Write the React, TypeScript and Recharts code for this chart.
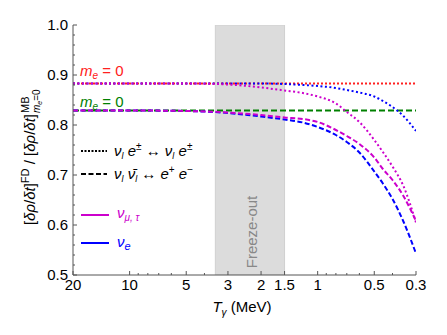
import React from 'react';
import { ComposedChart, Line, XAxis, YAxis, ReferenceArea, ReferenceLine } from 'recharts';

const T = [20, 10, 5, 3, 2, 1.5, 1.2, 1, 0.8, 0.7, 0.6, 0.5, 0.45, 0.4, 0.35, 0.3];
const muScat = [0.883, 0.883, 0.883, 0.881, 0.875, 0.869, 0.864, 0.857, 0.843, 0.826, 0.806, 0.77, 0.746, 0.717, 0.678, 0.605];
const eScat = [0.883, 0.883, 0.883, 0.883, 0.883, 0.882, 0.88, 0.878, 0.874, 0.87, 0.865, 0.857, 0.848, 0.836, 0.818, 0.788];
const muAnn = [0.829, 0.829, 0.828, 0.825, 0.82, 0.815, 0.812, 0.806, 0.79, 0.778, 0.762, 0.735, 0.712, 0.69, 0.658, 0.608];
const eAnn = [0.829, 0.829, 0.828, 0.824, 0.817, 0.811, 0.805, 0.796, 0.78, 0.766, 0.745, 0.707, 0.683, 0.652, 0.607, 0.543];

const ME0_SCAT = 0.883;
const ME0_ANN = 0.829;
const FREEZE = [3.5, 1.5];

const xMajor = [20, 10, 5, 3, 2, 1.5, 1, 0.5, 0.3];
const xMinor = [9, 8, 7, 6, 4, 0.9, 0.8, 0.7, 0.6, 0.4];
const yMajor = [0.5, 0.6, 0.7, 0.8, 0.9, 1.0];
const yMinor = [0.52, 0.54, 0.56, 0.58, 0.62, 0.64, 0.66, 0.68, 0.72, 0.74, 0.76, 0.78, 0.82, 0.84, 0.86, 0.88, 0.92, 0.94, 0.96, 0.98];

const data = T.map((t, i) => ({ t, muScat: muScat[i], eScat: eScat[i], muAnn: muAnn[i], eAnn: eAnn[i] }));

const FONT = '"Liberation Sans", Arial, Helvetica, sans-serif';
const AX = '#555';
const MAG = '#cc00cc';
const BLUE = '#0000ff';
const RED = '#ff2020';
const GREEN = '#008000';

const isMajorX = (v: number) => xMajor.includes(v);
const isMajorY = (v: number) => yMajor.some((m) => Math.abs(m - v) < 1e-6);

const BottomTick = (p: any) => {
  const { x, y, payload } = p;
  const major = isMajorX(payload.value);
  return (
    <g>
      <line x1={x} x2={x} y1={y} y2={y - (major ? 4 : 2)} stroke={AX} strokeWidth={1} />
      {major && (
        <text x={x} y={y + 15} textAnchor="middle" fontSize={15} fontFamily={FONT} fill="#000">
          {String(payload.value)}
        </text>
      )}
    </g>
  );
};
const TopTick = (p: any) => {
  const { x, y, payload } = p;
  const major = isMajorX(payload.value);
  return <line x1={x} x2={x} y1={y} y2={y + (major ? 4 : 2)} stroke={AX} strokeWidth={1} />;
};
const LeftTick = (p: any) => {
  const { x, y, payload } = p;
  const major = isMajorY(payload.value);
  return (
    <g>
      <line x1={x} x2={x + (major ? 4 : 2)} y1={y} y2={y} stroke={AX} strokeWidth={1} />
      {major && (
        <text x={x - 5} y={y + 5} textAnchor="end" fontSize={15} fontFamily={FONT} fill="#000">
          {payload.value.toFixed(1)}
        </text>
      )}
    </g>
  );
};
const RightTick = (p: any) => {
  const { x, y, payload } = p;
  const major = isMajorY(payload.value);
  return <line x1={x} x2={x - (major ? 4 : 2)} y1={y} y2={y} stroke={AX} strokeWidth={1} />;
};

const Overlay = () => (
  <svg width={439} height={327} style={{ position: 'absolute', left: 0, top: 0, pointerEvents: 'none' }} fontFamily={FONT}>
    {/* m_e = 0 labels */}
    <text x={72} y={68} fontSize={15} fill={RED}>
      <tspan fontStyle="italic">m</tspan>
      <tspan fontStyle="italic" fontSize={10} dy={3}>e</tspan>
      <tspan dy={-3}> = 0</tspan>
    </text>
    <text x={72} y={99} fontSize={15} fill={GREEN}>
      <tspan fontStyle="italic">m</tspan>
      <tspan fontStyle="italic" fontSize={10} dy={3}>e</tspan>
      <tspan dy={-3}> = 0</tspan>
    </text>
    {/* legend */}
    <line x1={73} x2={99} y1={143} y2={143} stroke="#000" strokeWidth={2} strokeDasharray="2 1.5" />
    <text x={106} y={148} fontSize={15} fill="#000">
      <tspan fontStyle="italic">ν</tspan>
      <tspan fontStyle="italic" fontSize={9} dy={3}>l</tspan>
      <tspan dy={-3} fontStyle="italic"> e</tspan>
      <tspan fontSize={10} dy={-6}>±</tspan>
      <tspan dy={6}> ↔ </tspan>
      <tspan fontStyle="italic">ν</tspan>
      <tspan fontStyle="italic" fontSize={9} dy={3}>l</tspan>
      <tspan dy={-3} fontStyle="italic"> e</tspan>
      <tspan fontSize={10} dy={-6}>±</tspan>
    </text>
    <line x1={73} x2={99} y1={166} y2={166} stroke="#000" strokeWidth={2} strokeDasharray="5 2.5" />
    <text x={106} y={171} fontSize={15} fill="#000">
      <tspan fontStyle="italic">ν</tspan>
      <tspan fontStyle="italic" fontSize={9} dy={3}>l</tspan>
      <tspan dy={-3} fontStyle="italic"> ν̄</tspan>
      <tspan fontStyle="italic" fontSize={9} dy={3}>l</tspan>
      <tspan dy={-3}> ↔ </tspan>
      <tspan fontStyle="italic">e</tspan>
      <tspan fontSize={10} dy={-6}>+</tspan>
      <tspan dy={6} fontStyle="italic"> e</tspan>
      <tspan fontSize={10} dy={-6}>−</tspan>
    </text>
    <line x1={73} x2={101} y1={207} y2={207} stroke={MAG} strokeWidth={2} />
    <text x={109} y={210} fontSize={15} fill={MAG}>
      <tspan fontStyle="italic">ν</tspan>
      <tspan fontStyle="italic" fontSize={10} dy={3}>μ, τ</tspan>
    </text>
    <line x1={73} x2={101} y1={235} y2={235} stroke={BLUE} strokeWidth={2} />
    <text x={109} y={239} fontSize={15} fill={BLUE}>
      <tspan fontStyle="italic">ν</tspan>
      <tspan fontStyle="italic" fontSize={11} dy={3}>e</tspan>
    </text>
    {/* Freeze-out */}
    <text transform="translate(249,224) rotate(-90)" textAnchor="middle" fontSize={15} fill="#888">
      Freeze-out
    </text>
    {/* y label */}
    <g transform="translate(27,0) rotate(-90)">
      <text x={-106} y={0} textAnchor="end" fontSize={15} fill="#000">
        <tspan>[</tspan>
        <tspan fontStyle="italic">δρ</tspan>
        <tspan>/</tspan>
        <tspan fontStyle="italic">δt</tspan>
        <tspan>]</tspan>
        <tspan fontSize={11} dy={-6}>FD</tspan>
        <tspan dy={6}> / [</tspan>
        <tspan fontStyle="italic">δρ</tspan>
        <tspan>/</tspan>
        <tspan fontStyle="italic">δt</tspan>
        <tspan>]</tspan>
      </text>
      <text x={-105} y={-6} fontSize={11} fill="#000">MB</text>
      <text x={-105} y={5} fontSize={10} fill="#000">
        <tspan fontStyle="italic">m</tspan>
        <tspan fontStyle="italic" fontSize={7} dy={2}>e</tspan>
        <tspan dy={-2}>=0</tspan>
      </text>
    </g>
    {/* x label */}
    <text x={234} y={304} textAnchor="middle" fontSize={15} fill="#000">
      <tspan fontStyle="italic">T</tspan>
      <tspan fontStyle="italic" fontSize={10} dy={4}>γ</tspan>
      <tspan dy={-4}> (MeV)</tspan>
    </text>
  </svg>
);

export default function App() {
  const allX = [...xMajor, ...xMinor];
  const allY = [...yMajor, ...yMinor];
  return (
    <div style={{ position: 'relative', width: 439, height: 327, fontFamily: FONT }}>
      <ComposedChart width={439} height={327} data={data} margin={{ top: 17, right: 31, bottom: 25, left: 5 }}>
        <XAxis
          dataKey="t"
          type="number"
          scale="log"
          domain={[0.3, 20]}
          allowDataOverflow
          reversed
          ticks={allX}
          interval={0}
          tick={BottomTick}
          tickLine={false}
          tickSize={0}
          tickMargin={0}
          height={35}
          axisLine={{ stroke: AX }}
        />
        <XAxis
          xAxisId="top"
          orientation="top"
          dataKey="t"
          type="number"
          scale="log"
          domain={[0.3, 20]}
          allowDataOverflow
          reversed
          ticks={allX}
          interval={0}
          tick={TopTick}
          tickLine={false}
          tickSize={0}
          tickMargin={0}
          height={0}
          axisLine={{ stroke: AX }}
        />
        <YAxis
          type="number"
          domain={[0.5, 1.0]}
          allowDataOverflow
          ticks={allY}
          interval={0}
          tick={LeftTick}
          tickLine={false}
          tickSize={0}
          tickMargin={0}
          width={60}
          axisLine={{ stroke: AX }}
        />
        <YAxis
          yAxisId="right"
          orientation="right"
          type="number"
          domain={[0.5, 1.0]}
          allowDataOverflow
          ticks={allY}
          interval={0}
          tick={RightTick}
          tickLine={false}
          tickSize={0}
          tickMargin={0}
          width={0}
          axisLine={{ stroke: AX }}
        />
        <ReferenceArea x1={FREEZE[0]} x2={FREEZE[1]} y1={0.5} y2={1.0} fill="#dcdcdc" fillOpacity={1} stroke="#d0d0d0" ifOverflow="hidden" />
        <ReferenceLine y={ME0_SCAT} stroke={RED} strokeWidth={2} strokeDasharray="2 2" />
        <ReferenceLine y={ME0_ANN} stroke={GREEN} strokeWidth={2} strokeDasharray="6 3" />
        <Line dataKey="eScat" type="monotone" stroke={BLUE} strokeWidth={2} strokeDasharray="2 2.5" dot={false} isAnimationActive={false} />
        <Line dataKey="muScat" type="monotone" stroke={MAG} strokeWidth={2} strokeDasharray="2 2.5" dot={false} isAnimationActive={false} />
        <Line dataKey="eAnn" type="monotone" stroke={BLUE} strokeWidth={2} strokeDasharray="5 2.5" dot={false} isAnimationActive={false} />
        <Line dataKey="muAnn" type="monotone" stroke={MAG} strokeWidth={2} strokeDasharray="5 2.5" dot={false} isAnimationActive={false} />
      </ComposedChart>
      <Overlay />
    </div>
  );
}
